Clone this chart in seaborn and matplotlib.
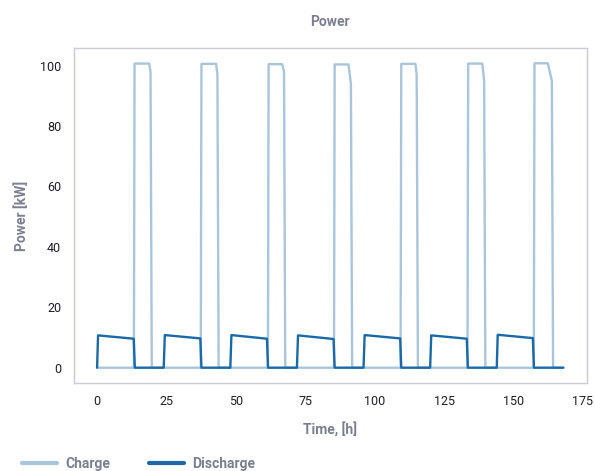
import numpy as np
import pandas as pd
import matplotlib
matplotlib.use("Agg")
import matplotlib.pyplot as plt
import seaborn as sns

# One charge/discharge cycle per day over a week (hours from start of each day)
days = [0, 1, 2, 3, 4, 5, 6]

# Charge: switch-on, plateau level, start of taper, level at end of taper, switch-off
charge_on_h = [13.4, 13.5, 13.7, 13.5, 13.5, 13.6, 13.5]
charge_peak_kw = [100.7, 100.6, 100.5, 100.4, 100.6, 100.7, 100.8]
charge_taper_h = [18.8, 18.9, 18.7, 18.6, 18.7, 18.8, 18.4]
charge_taper_kw = [98.0, 97.0, 98.0, 94.0, 97.0, 95.0, 95.0]
charge_off_h = [19.7, 19.8, 19.8, 19.9, 19.6, 19.9, 20.3]

# Discharge: switch-on, level at start, level at end, end of discharge, switch-off
discharge_on_h = [0.35, 0.4, 0.4, 0.4, 0.4, 0.4, 0.35]
discharge_start_kw = [10.7, 10.8, 10.8, 10.7, 10.8, 10.7, 10.9]
discharge_end_kw = [9.6, 9.7, 9.6, 9.5, 9.7, 9.6, 9.8]
discharge_end_h = [13.2, 13.2, 13.2, 13.2, 13.2, 13.2, 13.0]
discharge_off_h = [13.6, 13.6, 13.6, 13.6, 13.6, 13.6, 13.4]

end_h = 168.0

charge_t, charge_p = [], []
discharge_t, discharge_p = [], []
for i, d in enumerate(days):
    t0 = 24 * d
    charge_t += [t0, t0 + charge_on_h[i] - 0.15, t0 + charge_on_h[i] + 0.1,
                 t0 + charge_taper_h[i], t0 + charge_off_h[i] - 0.45,
                 t0 + charge_off_h[i]]
    charge_p += [0, 0, charge_peak_kw[i], charge_peak_kw[i], charge_taper_kw[i], 0]
    discharge_t += [t0, t0 + discharge_on_h[i], t0 + discharge_end_h[i],
                    t0 + discharge_off_h[i]]
    discharge_p += [0, discharge_start_kw[i], discharge_end_kw[i], 0]
charge_t.append(end_h)
charge_p.append(0)
discharge_t.append(end_h)
discharge_p.append(0)

df = pd.concat([
    pd.DataFrame({"Time": charge_t, "Power": charge_p, "Series": "Charge"}),
    pd.DataFrame({"Time": discharge_t, "Power": discharge_p, "Series": "Discharge"}),
], ignore_index=True)

sns.set_theme(style="white")
plt.rcParams["font.family"] = ["Roboto", "DejaVu Sans"]

label_grey = "#7b7f8f"
spine_grey = "#c9cad3"

fig = plt.figure(figsize=(5.95, 4.71), dpi=100)
ax = fig.add_axes([0.124, 0.187, 0.862, 0.711])

sns.lineplot(data=df, x="Time", y="Power", hue="Series", sort=False,
             estimator=None, palette={"Charge": "#a9c5db", "Discharge": "#1b69a6"},
             linewidth=1.7, ax=ax, legend=False)

ax.set_xticks([0, 25, 50, 75, 100, 125, 150, 175])
ax.set_yticks([0, 20, 40, 60, 80, 100])
ax.set_ylim(-5.04, 105.84)
ax.tick_params(axis="both", direction="out", length=5, width=1, color=spine_grey,
               labelsize=9.0, labelcolor="#1e1e24", pad=4)
for s in ax.spines.values():
    s.set_color(spine_grey)
    s.set_linewidth(1)

ax.set_xlabel("Time, [h]", color=label_grey, fontsize=10, fontweight="semibold", labelpad=10)
ax.set_ylabel("Power [kW]", color=label_grey, fontsize=10, fontweight="semibold", labelpad=8)
ax.set_title("Power", color=label_grey, fontsize=10, fontweight="semibold", pad=16)

handles = [plt.Line2D([], [], color="#a9c5db", lw=3),
           plt.Line2D([], [], color="#1b69a6", lw=3)]
leg = fig.legend(handles, ["Charge", "Discharge"], loc="lower left",
                 bbox_to_anchor=(0.016, -0.027), ncol=2, frameon=False,
                 handlelength=2.5, handletextpad=0.6, columnspacing=2.8,
                 prop={"size": 10, "weight": "semibold"})
for t in leg.get_texts():
    t.set_color(label_grey)

fig.savefig("out.png", dpi=100)
